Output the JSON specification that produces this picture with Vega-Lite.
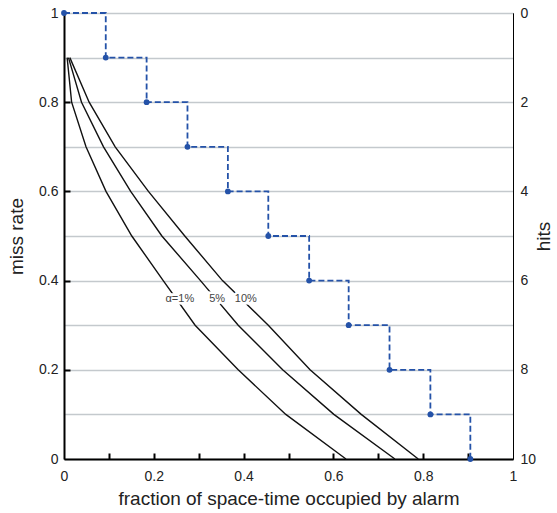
{
  "$schema": "https://vega.github.io/schema/vega-lite/v6.json",
  "width": 449,
  "height": 446,
  "autosize": "none",
  "padding": {"left": 64, "top": 13, "right": 44, "bottom": 54},
  "config": {
    "view": {"stroke": "black", "strokeWidth": 1},
    "font": "Liberation Sans",
    "axis": {
      "labelFont": "Liberation Sans",
      "titleFont": "Liberation Sans",
      "labelFontSize": 14,
      "titleFontSize": 19,
      "titleFontWeight": "normal",
      "labelColor": "#222",
      "titleColor": "#222",
      "domainColor": "black",
      "labelFlush": false
    }
  },
  "datasets": {
    "curves": [
      {"alpha": "1%", "x": 0.007, "y": 0.9},
      {"alpha": "1%", "x": 0.017, "y": 0.8},
      {"alpha": "1%", "x": 0.049, "y": 0.7},
      {"alpha": "1%", "x": 0.0935, "y": 0.6},
      {"alpha": "1%", "x": 0.151, "y": 0.5},
      {"alpha": "1%", "x": 0.221, "y": 0.4},
      {"alpha": "1%", "x": 0.292, "y": 0.3},
      {"alpha": "1%", "x": 0.388, "y": 0.2},
      {"alpha": "1%", "x": 0.494, "y": 0.1},
      {"alpha": "1%", "x": 0.628, "y": 0.0},
      {"alpha": "5%", "x": 0.010, "y": 0.9},
      {"alpha": "5%", "x": 0.039, "y": 0.8},
      {"alpha": "5%", "x": 0.088, "y": 0.7},
      {"alpha": "5%", "x": 0.1485, "y": 0.6},
      {"alpha": "5%", "x": 0.218, "y": 0.5},
      {"alpha": "5%", "x": 0.304, "y": 0.4},
      {"alpha": "5%", "x": 0.388, "y": 0.3},
      {"alpha": "5%", "x": 0.487, "y": 0.2},
      {"alpha": "5%", "x": 0.601, "y": 0.1},
      {"alpha": "5%", "x": 0.737, "y": 0.0},
      {"alpha": "10%", "x": 0.013, "y": 0.9},
      {"alpha": "10%", "x": 0.056, "y": 0.8},
      {"alpha": "10%", "x": 0.114, "y": 0.7},
      {"alpha": "10%", "x": 0.188, "y": 0.6},
      {"alpha": "10%", "x": 0.269, "y": 0.5},
      {"alpha": "10%", "x": 0.353, "y": 0.4},
      {"alpha": "10%", "x": 0.455, "y": 0.3},
      {"alpha": "10%", "x": 0.548, "y": 0.2},
      {"alpha": "10%", "x": 0.662, "y": 0.1},
      {"alpha": "10%", "x": 0.789, "y": 0.0}
    ],
    "labels": [
      {"x": 0.258, "y": 0.359, "text": "α=1%"},
      {"x": 0.341, "y": 0.359, "text": "5%"},
      {"x": 0.405, "y": 0.359, "text": "10%"}
    ],
    "hits": [
      {"x": 0.0, "hits": 0},
      {"x": 0.093, "hits": 1},
      {"x": 0.184, "hits": 2},
      {"x": 0.275, "hits": 3},
      {"x": 0.365, "hits": 4},
      {"x": 0.455, "hits": 5},
      {"x": 0.546, "hits": 6},
      {"x": 0.634, "hits": 7},
      {"x": 0.725, "hits": 8},
      {"x": 0.816, "hits": 9},
      {"x": 0.905, "hits": 10}
    ]
  },
  "layer": [
    {
      "encoding": {
        "x": {
          "field": "x",
          "type": "quantitative",
          "scale": {"domain": [0, 1], "nice": false, "zero": false},
          "axis": {
            "orient": "bottom",
            "title": "fraction of space-time occupied by alarm",
            "values": [0, 0.2, 0.4, 0.6, 0.8, 1],
            "format": "~g",
            "grid": false,
            "domainWidth": 2,
            "ticks": false,
            "labelPadding": 10,
            "titlePadding": 6
          }
        }
      },
      "layer": [
        {
          "data": {"name": "curves"},
          "mark": {"type": "line", "color": "#111", "strokeWidth": 1.4},
          "encoding": {
            "y": {
              "field": "y",
              "type": "quantitative",
              "scale": {"domain": [0, 1], "nice": false, "zero": false},
              "axis": {
                "orient": "left",
                "title": "miss rate",
                "values": [0, 0.2, 0.4, 0.6, 0.8, 1],
                "format": "~g",
                "grid": false,
                "domainWidth": 2,
                "ticks": false,
                "labelPadding": 6,
                "titlePadding": 12
              }
            },
            "detail": {"field": "alpha"},
            "order": {"field": "y", "sort": "descending"}
          }
        },
        {
          "data": {"name": "labels"},
          "mark": {"type": "text", "fontSize": 11, "stroke": "white", "strokeWidth": 5, "fill": "white"},
          "encoding": {
            "y": {
              "field": "y",
              "type": "quantitative",
              "scale": {"domain": [0, 1], "nice": false, "zero": false},
              "axis": {
                "orient": "left",
                "title": null,
                "values": [0.2, 0.4, 0.6, 0.8],
                "labels": false,
                "domain": false,
                "grid": false,
                "ticks": true,
                "tickColor": "black",
                "tickSize": 6,
                "tickWidth": 2,
                "offset": -6
              }
            },
            "text": {"field": "text"}
          }
        },
        {
          "data": {"name": "labels"},
          "mark": {"type": "text", "fontSize": 11, "color": "#444"},
          "encoding": {
            "y": {
              "field": "y",
              "type": "quantitative",
              "scale": {"domain": [0, 1], "nice": false, "zero": false},
              "axis": null
            },
            "text": {"field": "text"}
          }
        }
      ],
      "resolve": {"axis": {"y": "independent"}}
    },
    {
      "data": {"name": "hits"},
      "encoding": {
        "x": {
          "field": "x",
          "type": "quantitative",
          "scale": {"domain": [0, 1], "nice": false, "zero": false},
          "axis": {
            "orient": "bottom",
            "title": null,
            "values": [0.1, 0.2, 0.3, 0.4, 0.5, 0.6, 0.7, 0.8, 0.9],
            "labels": false,
            "domain": false,
            "grid": false,
            "ticks": true,
            "tickColor": "black",
            "tickSize": 6,
            "tickWidth": 2,
            "offset": -6
          }
        },
        "y": {
          "field": "hits",
          "type": "quantitative",
          "scale": {"domain": [0, 10], "reverse": true, "nice": false, "zero": false},
          "axis": {
            "orient": "right",
            "title": "hits",
            "titleAngle": -90,
            "values": [0, 1, 2, 3, 4, 5, 6, 7, 8, 9, 10],
            "labelExpr": "datum.value%2==0 ? datum.label : ''",
            "grid": true,
            "gridColor": "#c4c9cd",
            "gridWidth": 1.3,
            "ticks": false,
            "domainWidth": 1,
            "labelPadding": 7,
            "titlePadding": 18
          }
        }
      },
      "layer": [
        {
          "mark": {"type": "line", "interpolate": "step-after", "color": "#2452a8", "strokeWidth": 1.8, "strokeDash": [6, 3]}
        },
        {
          "mark": {"type": "point", "filled": true, "color": "#2452a8", "size": 34, "opacity": 1}
        }
      ]
    }
  ],
  "resolve": {"scale": {"y": "independent"}, "axis": {"x": "independent", "y": "independent"}}
}
